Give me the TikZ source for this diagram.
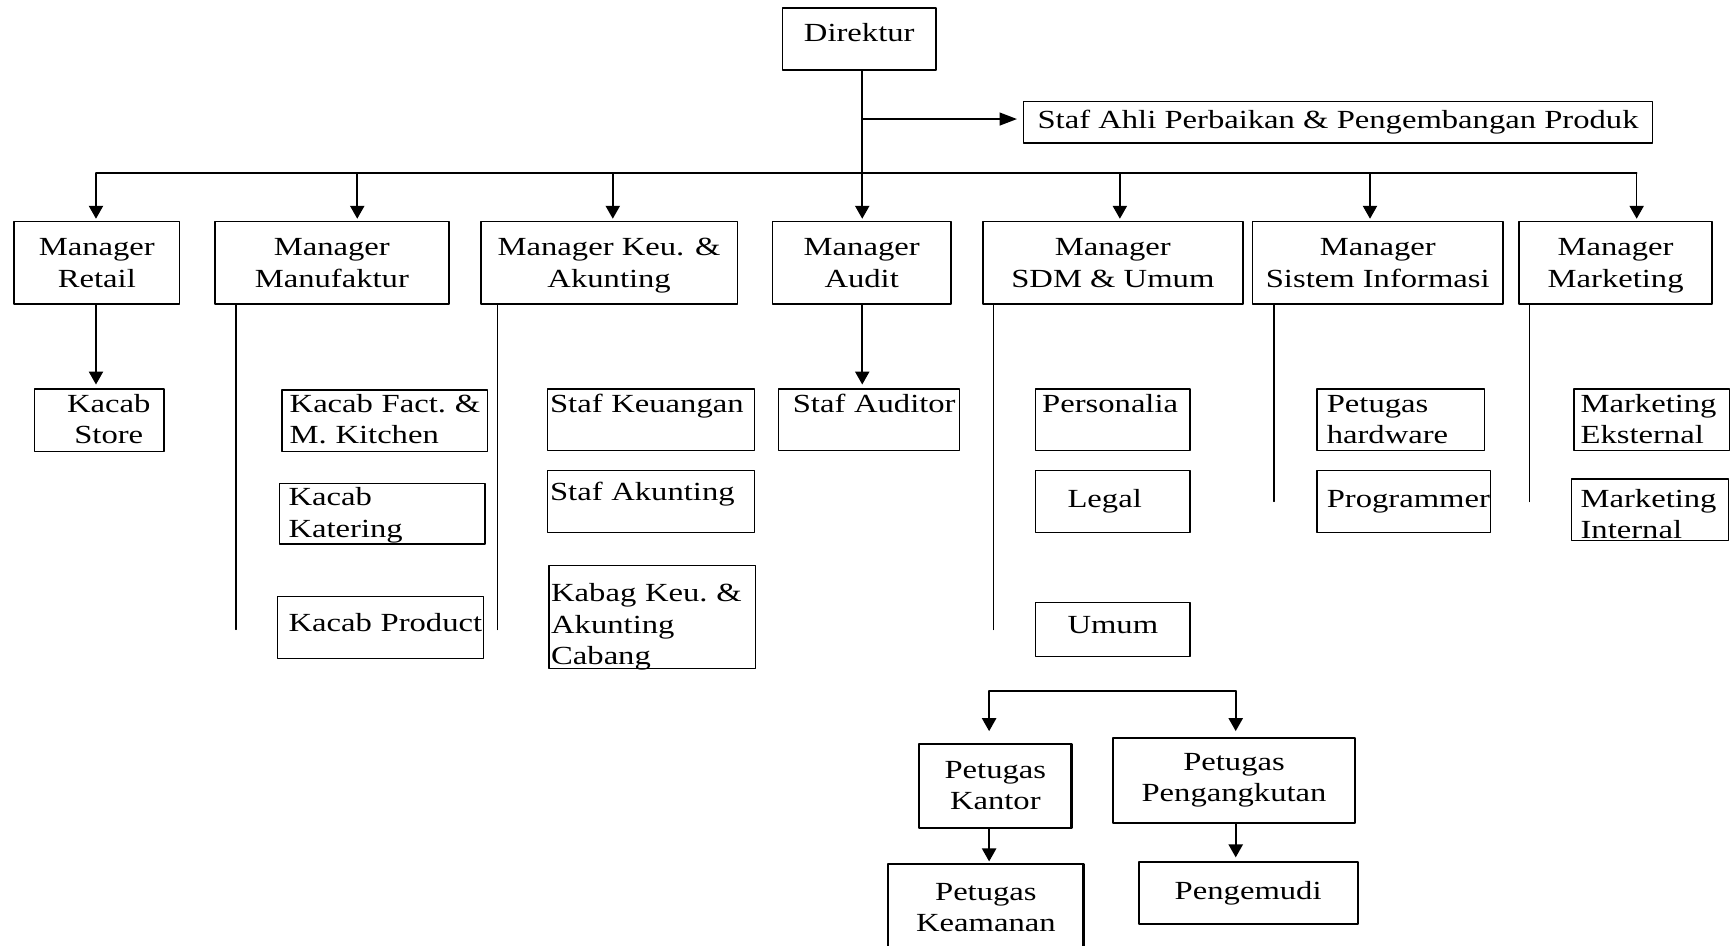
\documentclass[tikz,border=0pt]{standalone}
\usepackage{fontspec}
\setmainfont{Liberation Serif}[FakeStretch=1.25]
\usepackage{tikz}
\usetikzlibrary{arrows.meta}
\usetikzlibrary{calc}

\begin{document}
\begin{tikzpicture}[x=0.03cm,y=-0.03cm,line cap=round,line join=round,
  >={Triangle[length=10pt,width=11pt]},
  mbox/.style={draw,line width=1.3pt,anchor=north west,inner sep=0pt,align=center},
  mgr/.style={mbox,minimum height=2.25cm,text depth=0pt},
  bbox/.style={draw,line width=1.6pt,anchor=north west,inner sep=0pt,align=center},
  sbox/.style={draw,line width=0.95pt,anchor=north west,inner ysep=0pt,align=left},
  conn/.style={line width=1.2pt},
  down/.style={->,line width=1.2pt},
  side/.style={line width=1pt}]
\useasboundingbox (0,0) rectangle (1568,857);
% \draw[step=50,gray,very thin] (0,0) grid (1568,857);
{\fontsize{20.2}{24.3}\selectfont\hyphenpenalty=10000\exhyphenpenalty=10000
% top
\draw (708.5,6.7) node[mbox,minimum width=4.17cm,minimum height=1.68cm,text depth=0.36cm](dir){Direktur};
\draw (927,91.3) node[mbox,minimum width=17.1cm,minimum height=1.13cm](staf){Staf Ahli Perbaikan \& Pengembangan Produk};

% managers
\draw (12,200) node[mgr,minimum width=4.5cm](mret){Manager\\Retail};
\draw (194,200) node[mgr,minimum width=6.36cm](mmanu){Manager\\Manufaktur};
\draw (435,200) node[mgr,minimum width=6.98cm](mkeu){Manager Keu. \&\\Akunting};
\draw (699.4,200) node[mgr,minimum width=4.85cm](maud){Manager\\Audit};
\draw (890.2,200) node[mgr,minimum width=7.06cm](msdm){Manager\\SDM \& Umum};
\draw (1134.5,200) node[mgr,minimum width=6.81cm](msi){Manager\\Sistem Informasi};
\draw (1376.2,200) node[mgr,minimum width=5.24cm](mmkt){Manager\\Marketing};

% staff boxes
\draw (31,352) node[sbox,align=center,inner xsep=0pt,text width=3.51cm,text height=0.63cm,text depth=1.065cm](store){\hspace*{0.51cm}Kacab\\\hspace*{0.51cm}Store};

\draw (255,353) node[sbox,inner xsep=0.21cm,text width=5.175cm,text height=0.6cm,text depth=1.065cm](fact){Kacab~Fact.~\&\\M.~Kitchen};
\draw (253,437.5) node[sbox,inner xsep=0.24cm,text width=5.1cm,text height=0.615cm,text depth=1.035cm](kater){Kacab\\Katering};
\draw (251,540) node[sbox,inner xsep=0.3cm,text width=5.01cm,text height=0.96cm,text depth=0.72cm](prod){Kacab~Product};

\draw (496,352) node[sbox,inner xsep=0.06cm,text width=5.49cm,text height=0.63cm,text depth=1.035cm](keu){Staf~Keuangan};
\draw (496,426) node[sbox,inner xsep=0.06cm,text width=5.49cm,text height=0.81cm,text depth=0.87cm](akun){Staf~Akunting};
\draw (497,512) node[sbox,inner xsep=0.06cm,text width=5.49cm,text height=0.99cm,text depth=1.8cm](kabag){Kabag~Keu.~\&\\Akunting\\Cabang};

\draw (705,352) node[sbox,inner xsep=0.39cm,text width=4.14cm,text height=0.63cm,text depth=1.05cm](audr){Staf~Auditor};

\draw (938,352) node[sbox,inner xsep=0.18cm,text width=3.84cm,text height=0.63cm,text depth=1.05cm](pers){Personalia};
\draw (938,426) node[sbox,inner xsep=0.87cm,text width=2.46cm,text height=0.99cm,text depth=0.69cm](legal){Legal};
\draw (938,545.3) node[sbox,inner xsep=0.87cm,text width=2.46cm,text height=0.843cm,text depth=0.627cm](umum){Umum};

\draw (1193,352) node[sbox,inner xsep=0.27cm,text width=4.02cm,text height=0.63cm,text depth=1.05cm](hw){Petugas\\hardware};
\draw (1193,426) node[sbox,inner xsep=0.27cm,text width=4.17cm,text height=0.99cm,text depth=0.69cm](prog){Programmer};

\draw (1426,352) node[sbox,inner xsep=0.18cm,text width=3.87cm,text height=0.63cm,text depth=1.05cm](meks){Marketing\\Eksternal};
\draw (1424,433.5) node[sbox,inner xsep=0.24cm,text width=3.78cm,text height=0.765cm,text depth=0.9cm](mint){Marketing\\Internal};

% bottom group
\draw (832.2,673.1) node[bbox,minimum width=4.14cm,minimum height=2.29cm](kantor){Petugas\\Kantor};
\draw (1008.2,668) node[bbox,minimum width=6.56cm,minimum height=2.31cm](angkut){Petugas\\Pengangkutan};
\draw (804.1,782.5) node[bbox,minimum width=5.31cm,minimum height=2.34cm](aman){Petugas\\Keamanan};
\draw (1031,780) node[bbox,minimum width=5.96cm,minimum height=1.7cm](mudi){Pengemudi};
}

% connectors
\coordinate (a1) at (87,157);
\coordinate (a2) at (323.8,157);
\coordinate (a3) at (555.4,157);
\coordinate (a4) at (781.5,157);
\coordinate (a5) at (1015,157);
\coordinate (a6) at (1241.7,157);
\coordinate (a7) at (1483.4,157);

\draw[conn] (dir.south -| a4) -- (a4);
\draw[conn] (a1) -- (a7);
\draw[conn,-{Triangle[length=13.5pt,width=10pt]},shorten >=4.5pt] ($(a4 |- staf.west)+(0,-3)$) -- ($(staf.west)+(0,-3)$);

\draw[down,shorten >=1.5pt] (a1) -- (a1 |- mret.north);
\draw[down,shorten >=1.5pt] (a2) -- (a2 |- mmanu.north);
\draw[down,shorten >=1.5pt] (a3) -- (a3 |- mkeu.north);
\draw[down,shorten >=1.5pt] (a4) -- (a4 |- maud.north);
\draw[down,shorten >=1.5pt] (a5) -- (a5 |- msdm.north);
\draw[down,shorten >=1.5pt] (a6) -- (a6 |- msi.north);
\draw[down,shorten >=1.5pt] (a7) -- (a7 |- mmkt.north);

\draw[down,shorten >=3pt] (a1 |- mret.south) -- (a1 |- store.north);
\draw[down,shorten >=3pt] (a4 |- maud.south) -- (a4 |- audr.north);

\draw[side] ($(mmanu.south west)+(20,0)$) -- ++(0,294);
\draw[side] ($(mkeu.south west)+(15.7,0)$) -- ++(0,294);
\draw[side] ($(msdm.south west)+(10,0)$) -- ++(0,294);
\draw[side] ($(msi.south west)+(20.3,0)$) -- ++(0,178);
\draw[side] ($(mmkt.south west)+(9.8,0)$) -- ++(0,178);

\coordinate (bl) at (896.5,626.3);
\coordinate (br) at (1120,626.3);
\draw[conn] (bl) -- (br);
\draw[down,shorten >=8.9pt] (bl) -- (bl |- kantor.north);
\draw[down,shorten >=4.6pt] (br) -- (br |- angkut.north);
\draw[down,shorten >=1.5pt] (bl |- kantor.south) -- (bl |- aman.north);
\draw[down,shorten >=2.5pt] (br |- angkut.south) -- (br |- mudi.north);
\end{tikzpicture}
\end{document}
